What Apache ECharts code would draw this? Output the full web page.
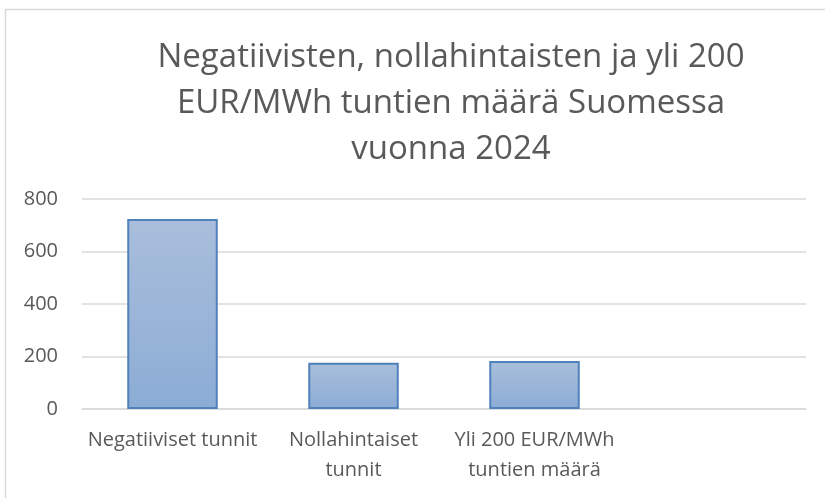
<!DOCTYPE html>
<html>
<head>
<meta charset="utf-8">
<script src="https://cdn.jsdelivr.net/npm/echarts@6/dist/echarts.min.js"></script>
<style>
  html, body { margin: 0; padding: 0; background: #fff; }
  #main { width: 825px; height: 498px; }
</style>
</head>
<body>
<div id="main"></div>
<script>
// categories (4th slot is empty in the original)
var categories = ['Negatiiviset tunnit', 'Nollahintaiset\ntunnit', 'Yli 200 EUR/MWh\ntuntien määrä', ''];
var values = [724, 176, 183, '-'];
var yTicks = [0, 200, 400, 600, 800];

var chartDom = document.getElementById('main');
var myChart = echarts.init(chartDom);
var font = '"Open Sans", sans-serif';

var option = {
  animation: false,
  backgroundColor: '#fff',
  title: {
    text: 'Negatiivisten, nollahintaisten ja yli 200\nEUR/MWh tuntien määrä Suomessa\nvuonna 2024',
    left: 446,
    top: 30,
    textAlign: 'center',
    textStyle: {
      color: '#595959',
      fontFamily: font,
      fontWeight: 'normal',
      fontSize: 33,
      lineHeight: 46
    }
  },
  graphic: [{
    type: 'rect',
    shape: { x: 5.5, y: 9.5, width: 830, height: 500 },
    style: { fill: 'none', stroke: '#d9d9d9', lineWidth: 1.5 },
    silent: true
  }],
  grid: {
    left: 82,
    right: 19,
    top: 199,
    bottom: 89
  },
  xAxis: {
    type: 'category',
    data: categories,
    axisLine: { show: true, lineStyle: { color: '#d9d9d9', width: 1.5 } },
    axisTick: { show: false },
    axisLabel: {
      color: '#595959',
      fontFamily: font,
      fontSize: 20,
      lineHeight: 30,
      margin: 16,
      interval: 0
    }
  },
  yAxis: {
    type: 'value',
    min: yTicks[0],
    max: yTicks[yTicks.length - 1],
    interval: 200,
    axisLine: { show: false },
    axisTick: { show: false },
    splitLine: { lineStyle: { color: '#d9d9d9', width: 1.5 } },
    axisLabel: {
      color: '#595959',
      fontFamily: font,
      fontSize: 20,
      margin: 24
    }
  },
  series: [{
    type: 'bar',
    data: values,
    barWidth: '50%',
    itemStyle: {
      color: new echarts.graphic.LinearGradient(0, 0, 0, 1, [
        { offset: 0, color: '#a9bedb' },
        { offset: 1, color: '#8cacd5' }
      ]),
      borderColor: '#4f81bd',
      borderWidth: 2
    }
  }]
};

option && myChart.setOption(option);
</script>
</body>
</html>
